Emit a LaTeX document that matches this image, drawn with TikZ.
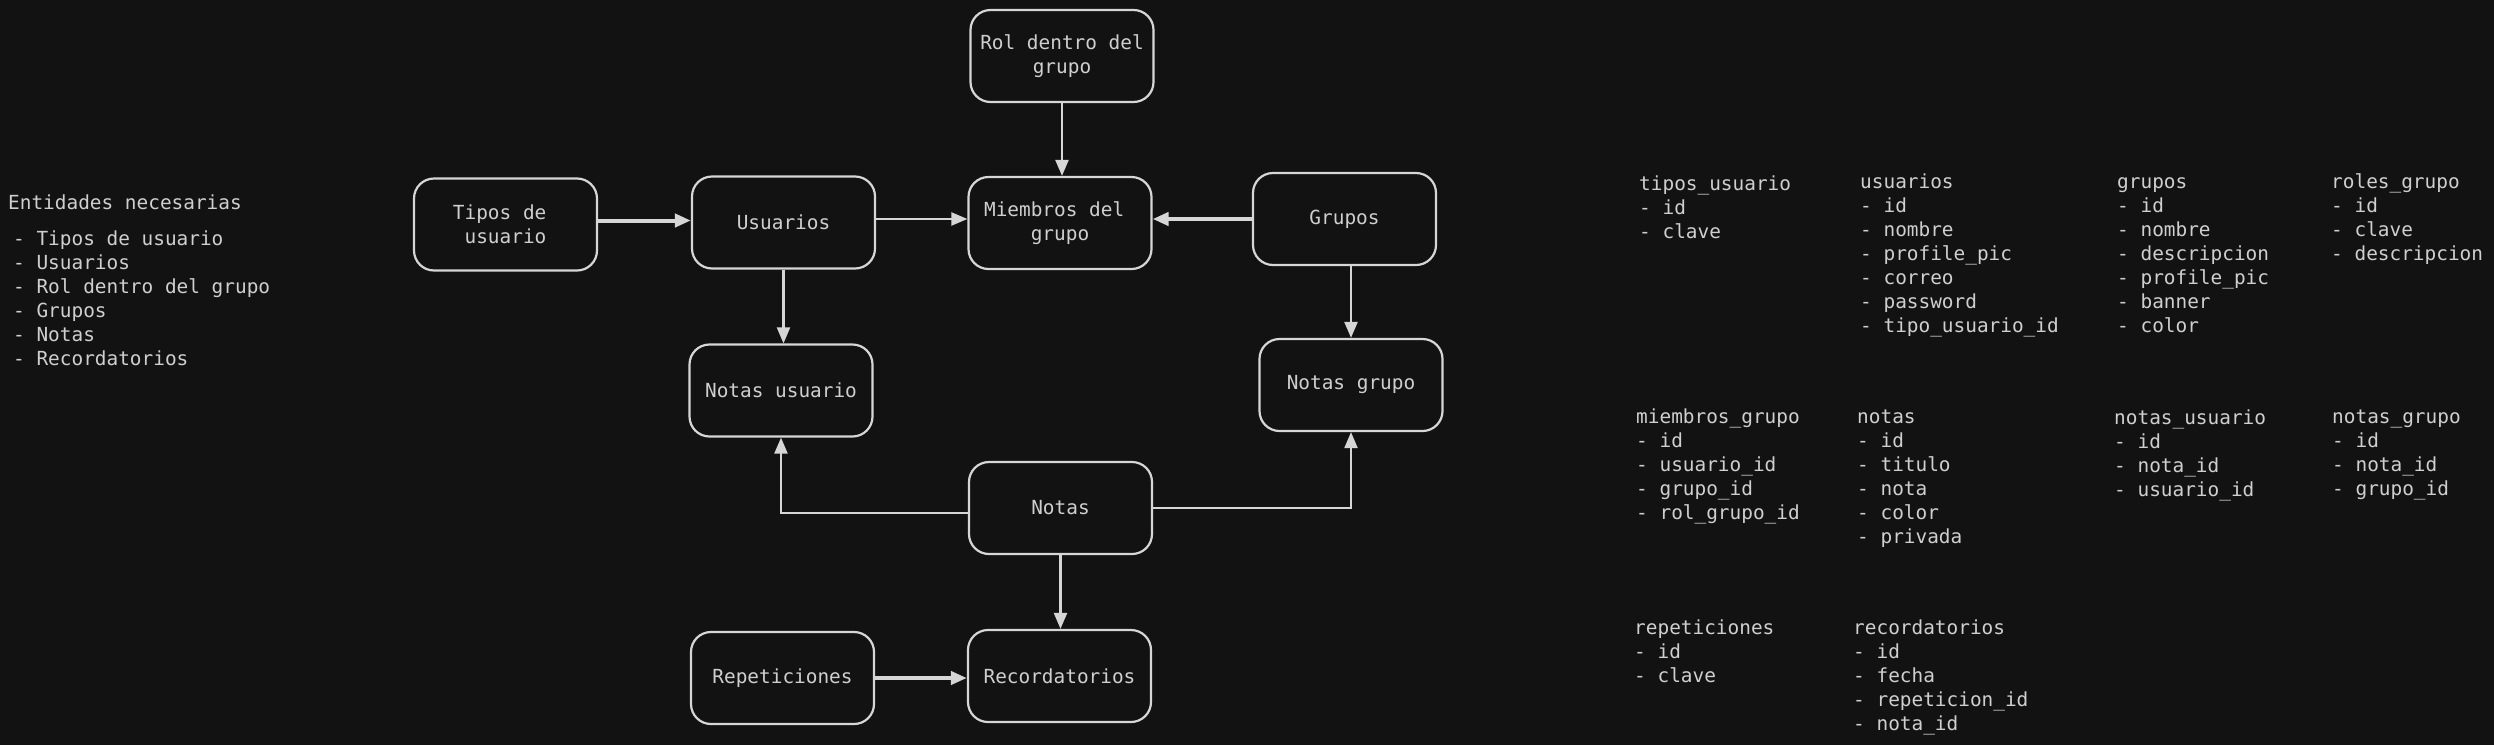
\documentclass[tikz,border=0pt]{standalone}
\usepackage{fontspec}
\setmonofont{DejaVu Sans Mono}
\usetikzlibrary{arrows.meta}
\definecolor{bg}{HTML}{121212}
\definecolor{ink}{HTML}{D6D6D6}
\definecolor{txt}{HTML}{CFCFCF}
\newcommand\monotext{\fontsize{19.4}{24}\selectfont\ttfamily}
\begin{document}
\begin{tikzpicture}[x=1pt,y=-1pt,
  box/.style={draw=ink, line width=2.2pt, rounded corners=20pt, fill=bg, text=txt,
    align=center, minimum width=183pt, minimum height=92pt, inner sep=0pt, font=\monotext},
  conn/.style={draw=ink, line width=2.2pt, -{Triangle[length=16pt,width=13pt]}},
  heavy/.style={conn, line width=4pt},
  tbl/.style={anchor=base west, inner sep=0pt, text=txt, font=\monotext}]
\fill[bg] (0,0) rectangle (2494,745);
\useasboundingbox (0,0) rectangle (2494,745);

% boxes
\node[box] (tipos) at (505.5,224.5) {Tipos de\phantom{x}\\usuario};
\node[box] (usu)   at (783.5,222.5) {Usuarios};
\node[box] (mie)   at (1060,223)    {Miembros del\phantom{x}\\grupo};
\node[box] (gru)   at (1344.5,219)  {Grupos};
\node[box] (rol)   at (1062,56)     {Rol dentro del\\grupo};
\node[box] (nu)    at (781,390.5)   {Notas usuario};
\node[box] (ng)    at (1351,385)    {Notas grupo};
\node[box] (notas) at (1060.5,508)  {Notas};
\node[box] (rec)   at (1059.5,676)  {Recordatorios};
\node[box] (rep)   at (782.5,678)   {Repeticiones};

% connectors
\draw[heavy] ([yshift=4pt]tipos.east) -- ([yshift=4pt]tipos.east -| usu.west);
\draw[conn] ([yshift=3.5pt]usu.east) -- ([yshift=3.5pt]usu.east -| mie.west);
\draw[heavy] (gru.west) -- (gru.west -| mie.east);
\draw[conn] (rol.south) -- (rol.south |- mie.north);
\draw[conn] (usu.south) -- (usu.south |- nu.north);
\draw[conn] (ng.north |- gru.south) -- (ng.north);
\draw[conn] ([yshift=-5pt]notas.west) -| (nu.south);
\draw[conn] (notas.east) -| (ng.south);
\draw[conn] (notas.south) -- (notas.south |- rec.north);
\draw[heavy] (rep.east) -- (rep.east -| rec.west);

% left text
\node[tbl] (enttitle) at (8,209) {Entidades necesarias};
\node[tbl] (entlist) at (13,245) {\begin{tabular}[t]{@{}l@{}}- Tipos de usuario\\- Usuarios\\- Rol dentro del grupo\\- Grupos\\- Notas\\- Recordatorios\end{tabular}};

% tables row 1
\node[tbl] (t1) at (1639,190) {\begin{tabular}[t]{@{}l@{}}tipos\_usuario\\- id\\- clave\end{tabular}};
\node[tbl] (t2) at (1860,188) {\begin{tabular}[t]{@{}l@{}}usuarios\\- id\\- nombre\\- profile\_pic\\- correo\\- password\\- tipo\_usuario\_id\end{tabular}};
\node[tbl] (t3) at (2117,188) {\begin{tabular}[t]{@{}l@{}}grupos\\- id\\- nombre\\- descripcion\\- profile\_pic\\- banner\\- color\end{tabular}};
\node[tbl] (t4) at (2331,188) {\begin{tabular}[t]{@{}l@{}}roles\_grupo\\- id\\- clave\\- descripcion\end{tabular}};
% row 2
\node[tbl] (t5) at (1636,423) {\begin{tabular}[t]{@{}l@{}}miembros\_grupo\\- id\\- usuario\_id\\- grupo\_id\\- rol\_grupo\_id\end{tabular}};
\node[tbl] (t6) at (1857,423) {\begin{tabular}[t]{@{}l@{}}notas\\- id\\- titulo\\- nota\\- color\\- privada\end{tabular}};
\node[tbl] (t7) at (2114,424) {\begin{tabular}[t]{@{}l@{}}notas\_usuario\\- id\\- nota\_id\\- usuario\_id\end{tabular}};
\node[tbl] (t8) at (2332,423) {\begin{tabular}[t]{@{}l@{}}notas\_grupo\\- id\\- nota\_id\\- grupo\_id\end{tabular}};
% row 3
\node[tbl] (t9) at (1634,634) {\begin{tabular}[t]{@{}l@{}}repeticiones\\- id\\- clave\end{tabular}};
\node[tbl] (t10) at (1853,634) {\begin{tabular}[t]{@{}l@{}}recordatorios\\- id\\- fecha\\- repeticion\_id\\- nota\_id\end{tabular}};
\end{tikzpicture}
\end{document}
